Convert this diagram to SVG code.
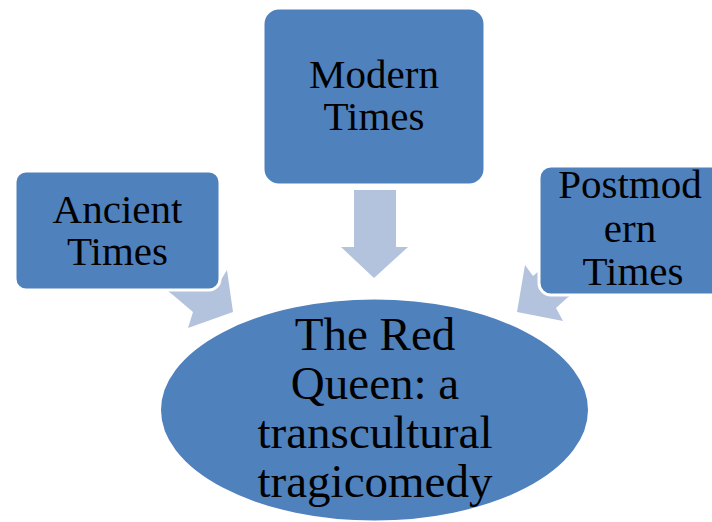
<svg xmlns="http://www.w3.org/2000/svg" width="712" height="522" viewBox="0 0 712 522">
<style>
.node{fill:#4F81BD;stroke:#FFFFFF;stroke-width:3}
.arrow{fill:#B3C3DE;stroke:none}
.lbl{font-family:"Liberation Serif","Times New Roman",serif;font-size:41px;fill:#000000;text-anchor:middle}
.big{font-size:47px}
</style>
<rect width="712" height="522" fill="#FFFFFF"/>
<g id="connectors">
<polygon class="arrow" points="354,190 396,190 396,247 408,247 374,278 341,247 354,247"/>
<polygon class="arrow" points="233,312 188,328 193,312 173,295 160,285 190,255 219,283 227,270"/>
<polygon class="arrow" points="517,312 563,321 556,308 567,298 585,285 573,242 533,276 525,265"/>
</g>
<g id="modern">
<rect class="node" x="263" y="8" width="222" height="177" rx="16" ry="16"/>
<text class="lbl" x="374" y="88">Modern</text>
<text class="lbl" x="374" y="130">Times</text>
</g>
<g id="ancient">
<rect class="node" x="15" y="171" width="205" height="119" rx="11" ry="11"/>
<text class="lbl" x="117.5" y="223">Ancient</text>
<text class="lbl" x="117.5" y="265">Times</text>
</g>
<g id="postmodern">
<rect class="node" x="539" y="166" width="210" height="129" rx="12" ry="12"/>
<text class="lbl" x="630" y="198">Postmod</text>
<text class="lbl" x="630" y="242">ern</text>
<text class="lbl" x="633" y="285">Times</text>
</g>
<g id="center">
<ellipse class="node" cx="374.5" cy="410" rx="215" ry="112"/>
<text class="lbl big" x="375" y="350">The Red</text>
<text class="lbl big" x="375" y="399">Queen: a</text>
<text class="lbl big" x="375" y="448">transcultural</text>
<text class="lbl big" x="375" y="497">tragicomedy</text>
</g>
</svg>
